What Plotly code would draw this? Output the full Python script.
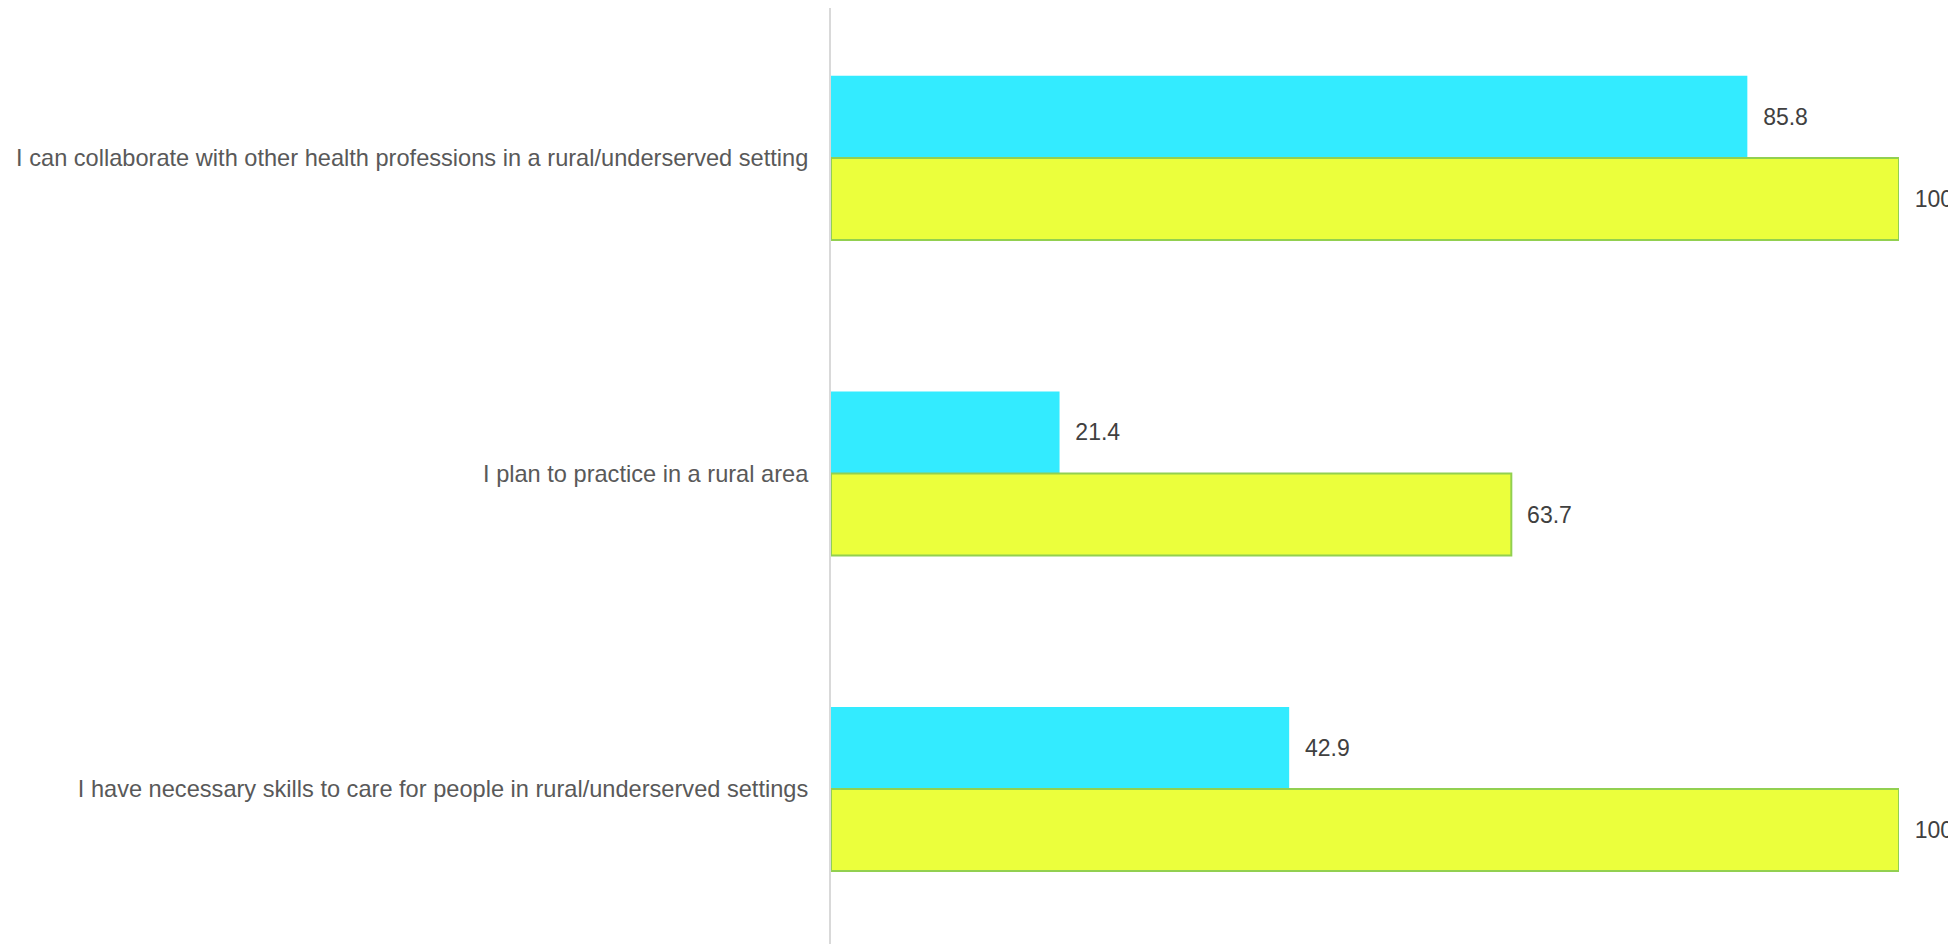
import plotly.graph_objects as go

categories = [
    "I can collaborate with other health professions in a rural/underserved setting",
    "I plan to practice in a rural area",
    "I have necessary skills to care for people in rural/underserved settings",
]
series_a = [85.8, 21.4, 42.9]
series_b = [100, 63.7, 100]
labels_a = ["85.8", "21.4", "42.9"]
labels_b = ["100", "63.7", "100"]

pad = "\u00a0\u00a0"

fig = go.Figure()
fig.add_trace(go.Bar(
    y=categories, x=series_a, orientation="h", name="A",
    marker=dict(color="#33EBFF", line=dict(width=0)),
    text=[pad + t for t in labels_a], textposition="outside", cliponaxis=False,
    textfont=dict(family="Arial, Liberation Sans", size=23, color="#404040"),
))
fig.add_trace(go.Bar(
    y=categories, x=series_b, orientation="h", name="B",
    marker=dict(color="#EBFF3C", line=dict(color="#92D050", width=2)),
    text=[pad + t for t in labels_b], textposition="outside", cliponaxis=False,
    textfont=dict(family="Arial, Liberation Sans", size=23, color="#404040"),
))

fig.update_layout(
    width=1948, height=936,
    margin=dict(l=823, r=57, t=0, b=0, autoexpand=False),
    barmode="group", bargap=0.48, bargroupgap=0,
    plot_bgcolor="white", paper_bgcolor="white",
    showlegend=False,
    font=dict(family="Arial, Liberation Sans"),
    xaxis=dict(range=[0, 100], visible=False, fixedrange=True, automargin=False),
    yaxis=dict(
        range=[2.491, -0.475], showline=True, linecolor="#D9D9D9", linewidth=2,
        showgrid=False, zeroline=False, ticks="", ticklabelstandoff=16,
        automargin=False,
        tickfont=dict(family="Arial, Liberation Sans", size=23.6, color="#595959"),
    ),
)

fig.write_html("out.html")
